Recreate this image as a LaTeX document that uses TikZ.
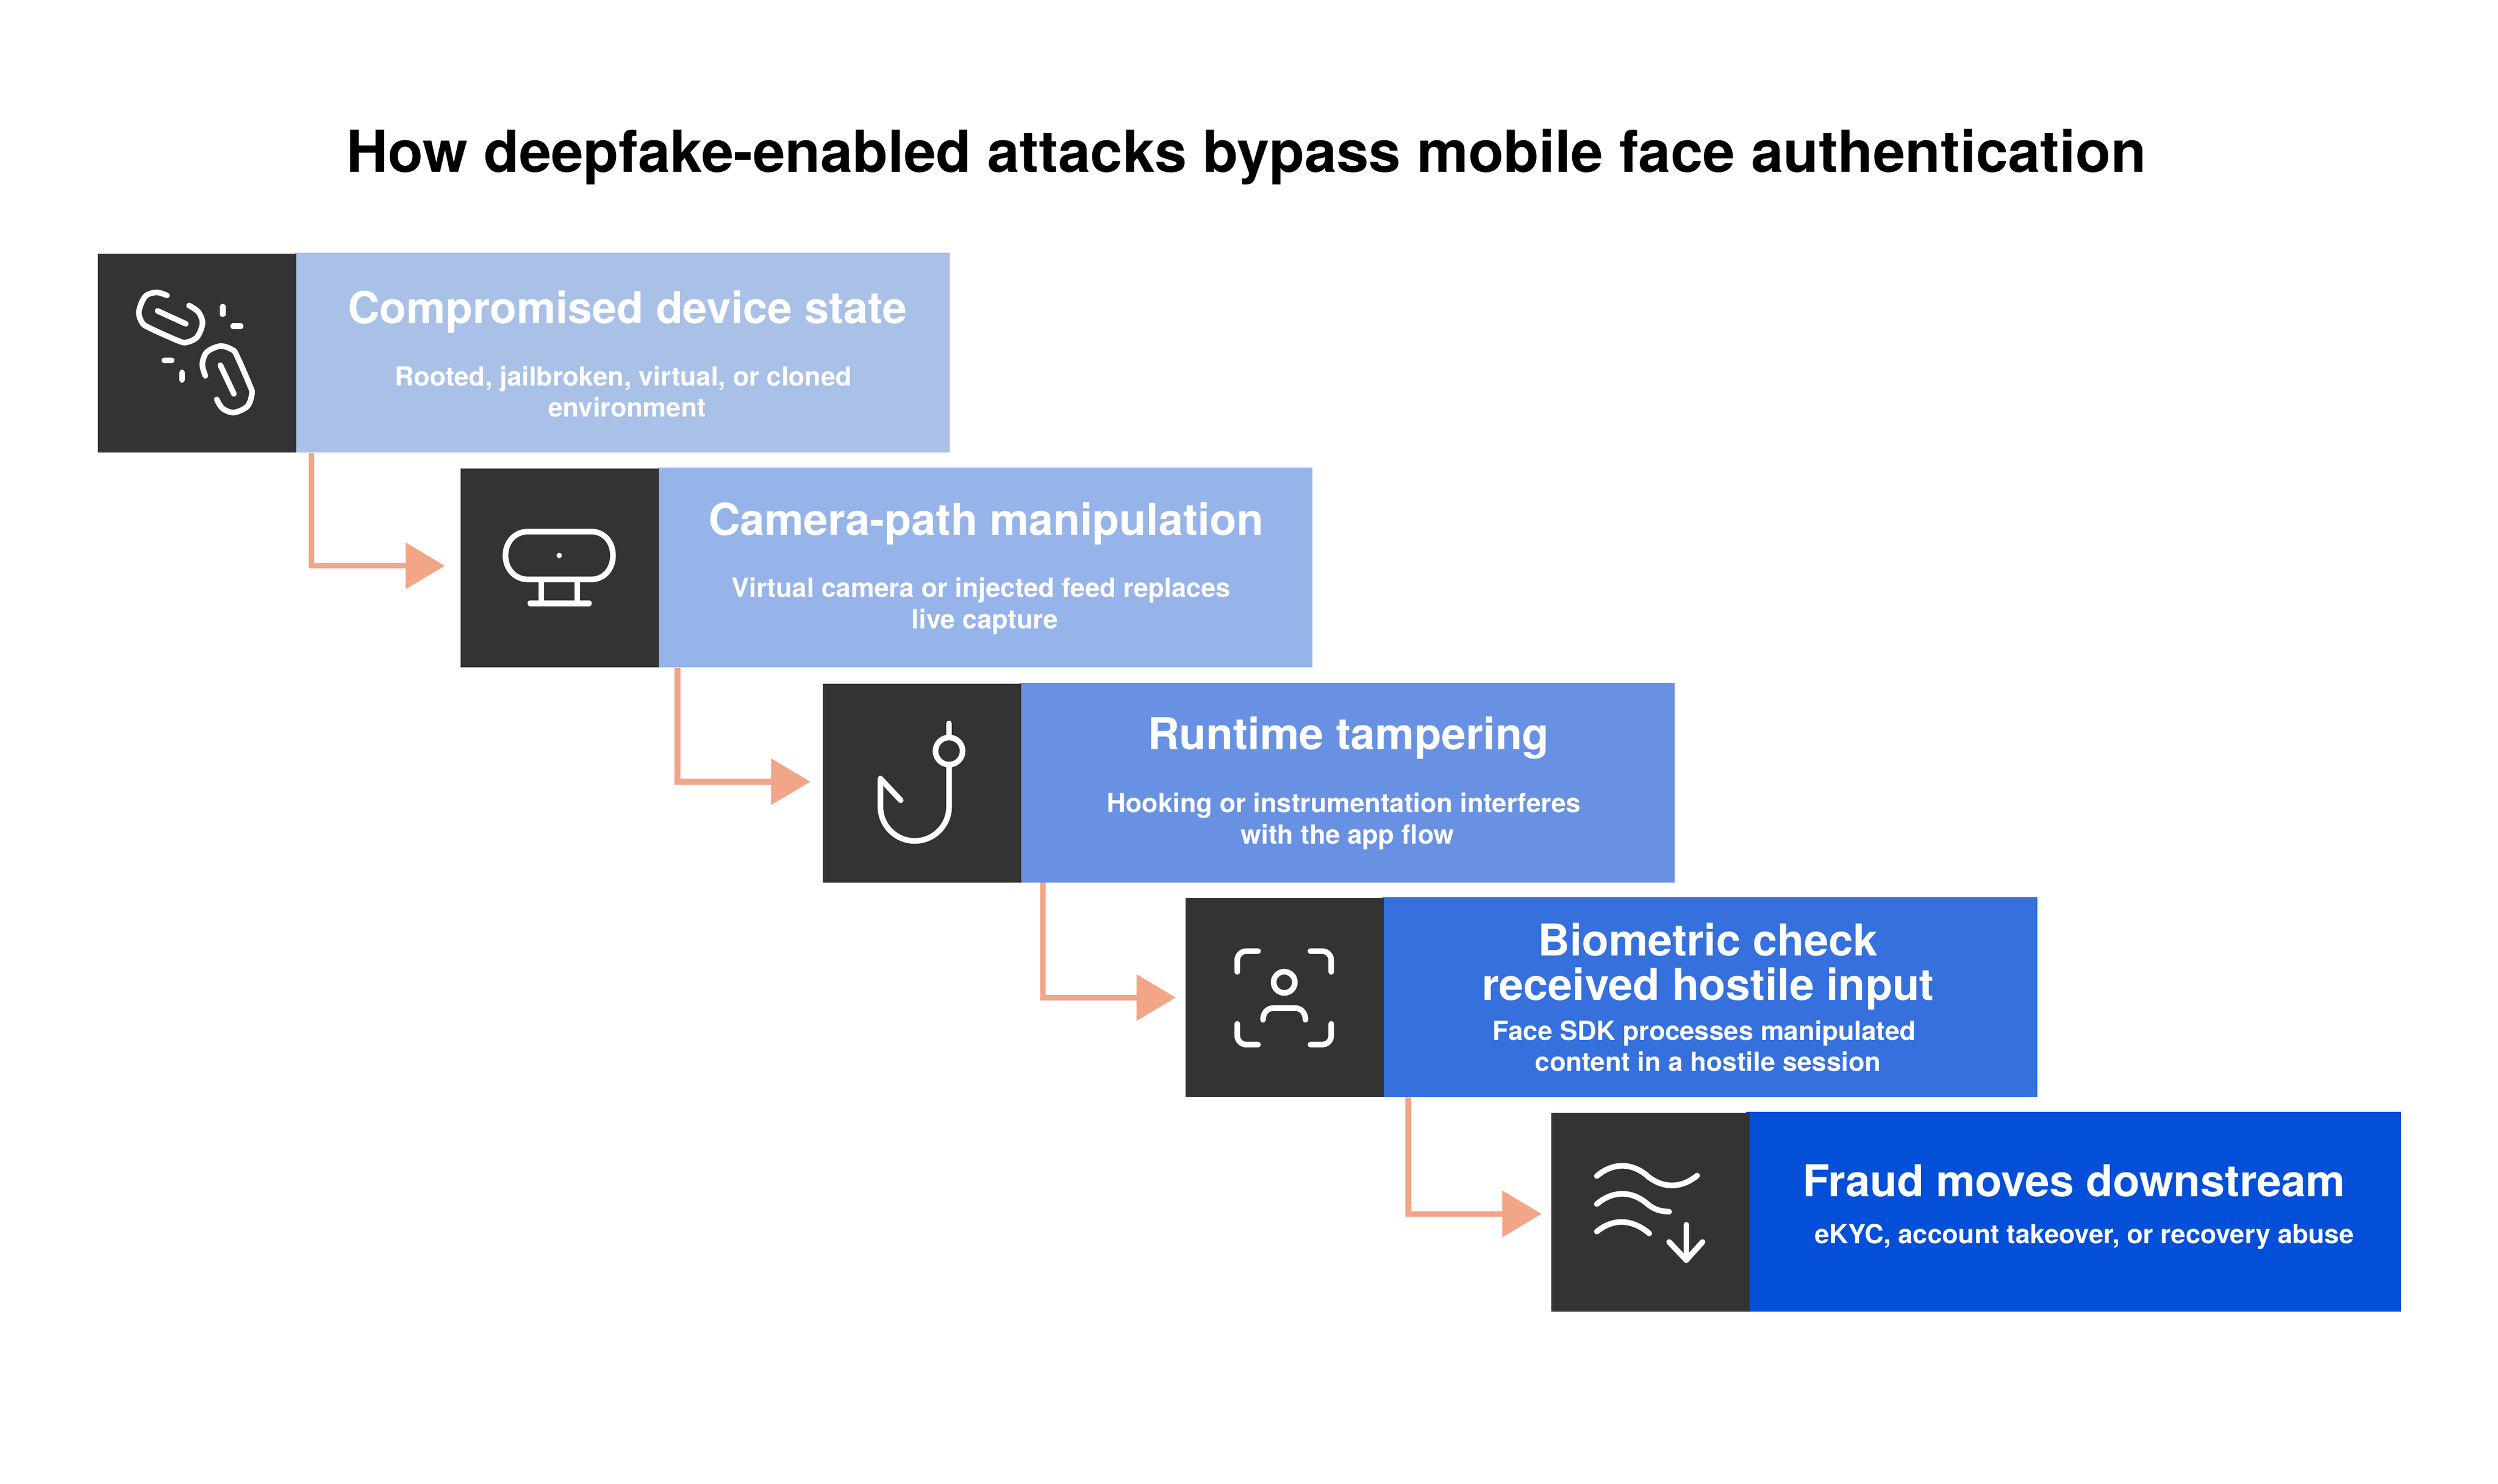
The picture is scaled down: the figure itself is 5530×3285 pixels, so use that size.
\documentclass[tikz,border=0pt]{standalone}
\usepackage{fontspec}
\setmainfont{TeX Gyre Heros}
\usetikzlibrary{arrows.meta}

\definecolor{boxdark}{HTML}{333333}
\definecolor{linkc}{HTML}{F2A587}
\definecolor{fillA}{HTML}{A9C1E6}
\definecolor{fillB}{HTML}{96B4EA}
\definecolor{fillC}{HTML}{6891E3}
\definecolor{fillD}{HTML}{3570DC}
\definecolor{fillE}{HTML}{034FD8}

\tikzset{
  iconbox/.style={fill=boxdark,anchor=north west,inner sep=0pt,minimum width=4.39cm,minimum height=4.40cm},
  bodybox/.style={anchor=north west,inner sep=0pt,minimum width=14.49cm,minimum height=4.42cm},
  head/.style={text=white,align=center,inner sep=0pt,font=\fontsize{27.7}{28}\selectfont\bfseries},
  sub/.style={text=white,align=center,inner sep=0pt,font=\fontsize{16.6}{19.7}\selectfont\bfseries},
  link/.style={linkc,line width=0.125cm,-{Triangle[length=0.87cm,width=1cm]}},
  glyph/.style={white,line width=0.125cm,line cap=round,line join=round}
}

\begin{document}
\begin{tikzpicture}[x=0.01cm,y=-0.01cm]
    \useasboundingbox (0,0) rectangle (5530,3285);

    \node (title) at (2759,347) [inner sep=0pt,font=\fontsize{36.4}{40}\selectfont\bfseries] {How deepfake-enabled attacks bypass mobile face authentication};

    \node (bodyA) at (652,559) [bodybox,fill=fillA] {};
    \node (bodyB) at (1455,1035) [bodybox,fill=fillB] {};
    \node (bodyC) at (2257,1511) [bodybox,fill=fillC] {};
    \node (bodyD) at (3060,1986) [bodybox,fill=fillD] {};
    \node (bodyE) at (3865,2461) [bodybox,fill=fillE] {};

    \node (iconA) at (216,561) [iconbox] {};
    \node (iconB) at (1019,1037) [iconbox] {};
    \node (iconC) at (1821,1513) [iconbox] {};
    \node (iconD) at (2624,1988) [iconbox] {};
    \node (iconE) at (3433,2463) [iconbox] {};

    \node (headA) at (1389,691) [head] {Compromised device state};
    \node (subA) at (1388,867) [sub] {Rooted, jailbroken, virtual, or cloned~\mbox{}\\environment};
    \node (headB) at (2183,1159) [head] {Camera-path manipulation};
    \node (subB) at (2180,1342) [sub] {Virtual camera or injected feed replaces~\mbox{}\\live capture};
    \node (headC) at (2985,1634) [head] {Runtime tampering};
    \node (subC) at (2983,1818) [sub] {Hooking or instrumentation interferes~\mbox{}\\with the app flow};
    \node (headD) at (3781,2140) [head] {Biometric check\\received hostile input};
    \node (subD) at (3781,2316) [sub] {Face SDK processes manipulated~\mbox{}\\content in a hostile session};
    \node (headE) at (4591,2614) [head] {Fraud moves downstream};
    \node (subE) at (4614,2738) [sub] {eKYC, account takeover, or recovery abuse};

    \draw[link] ([xshift=0.33cm]iconA.south east) |- ([xshift=-0.34cm,yshift=0.05cm]iconB.west);
    \draw[link] ([xshift=0.40cm]iconB.south east) |- ([xshift=-0.27cm,yshift=0.03cm]iconC.west);
    \draw[link] ([xshift=0.47cm]iconC.south east) |- ([xshift=-0.21cm]iconD.west);
    \draw[link] ([xshift=0.53cm]iconD.south east) |- ([xshift=-0.20cm,yshift=-0.04cm]iconE.west);

    % broken link
    \begin{scope}[shift={(200,540)},x=0.00333cm,y=-0.00333cm]
      \draw[glyph] plot[smooth,tension=.55] coordinates {(510,343) (440,323) (365,350) (323,450) (345,525) (395,560) (585,645) (640,655) (710,620) (746,530) (720,455) (657,410)};
      \draw[glyph] plot[smooth,tension=.55] coordinates {(765,878) (745,800) (775,720) (865,680) (945,705) (975,745) (1060,940) (1075,995) (1045,1080) (955,1122) (880,1095) (841,1035)};
      \draw[glyph] (447,446) -- (635,532);
      \draw[glyph] (865,807) -- (955,998);
      \draw[glyph] (881,418) -- (881,468);
      \draw[glyph] (950,548) -- (1000,548);
      \draw[glyph] (492,775) -- (541,775);
      \draw[glyph] (610,856) -- (610,905);
    \end{scope}

    % webcam
    \draw[glyph] (1119,1230) .. controls (1119,1200) and (1140,1177) .. (1169,1177) -- (1309,1177) .. controls (1337,1177) and (1357,1200) .. (1357,1230) .. controls (1357,1260) and (1337,1283) .. (1309,1283) -- (1169,1283) .. controls (1140,1283) and (1119,1260) .. cycle;
    \fill[white] (1238,1230) circle (0.06cm);
    \draw[glyph] (1198,1283) -- (1198,1336);
    \draw[glyph] (1278,1283) -- (1278,1336);
    \draw[glyph] (1174,1336) -- (1304,1336);

    % hook
    \draw[glyph] (2101,1602) -- (2101,1633);
    \draw[glyph] (2101,1663) circle (0.30cm);
    \draw[glyph] (2101,1693) -- (2101,1786) .. controls (2101,1828) and (2067,1862) .. (2025,1862) .. controls (1983,1862) and (1949,1828) .. (1949,1786) -- (1949,1724) -- (1994,1772);

    % face scan
    \draw[glyph] (2739,2152) -- (2739,2126) .. controls (2739,2115) and (2748,2106) .. (2759,2106) -- (2785,2106);
    \draw[glyph] (2901,2106) -- (2927,2106) .. controls (2938,2106) and (2947,2115) .. (2947,2126) -- (2947,2152);
    \draw[glyph] (2739,2267) -- (2739,2293) .. controls (2739,2304) and (2748,2313) .. (2759,2313) -- (2785,2313);
    \draw[glyph] (2901,2313) -- (2927,2313) .. controls (2938,2313) and (2947,2304) .. (2947,2293) -- (2947,2267);
    \draw[glyph] (2843,2175) circle (0.235cm);
    \draw[glyph] (2796,2258) .. controls (2796,2243) and (2805,2232) .. (2820,2232) -- (2866,2232) .. controls (2881,2232) and (2890,2243) .. (2890,2258);

    % waves with arrow
    \draw[glyph] (3535,2604) .. controls (3570,2574) and (3612,2574) .. (3646,2603) .. controls (3680,2632) and (3722,2632) .. (3757,2603);
    \draw[glyph] (3535,2666) .. controls (3570,2636) and (3612,2636) .. (3646,2665) .. controls (3665,2681) and (3680,2682) .. (3695,2683);
    \draw[glyph] (3535,2727) .. controls (3570,2698) and (3612,2698) .. (3651,2731);
    \draw[glyph] (3733,2712) -- (3733,2790);
    \draw[glyph] (3695,2750) -- (3733,2790) -- (3769,2750);
\end{tikzpicture}
\end{document}
